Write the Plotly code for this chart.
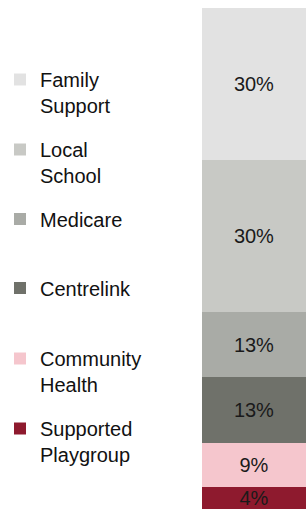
import plotly.graph_objects as go

categories = ["Supported<br>Playgroup", "Community<br>Health", "Centrelink", "Medicare", "Local<br>School", "Family<br>Support"]
values = [4.4, 8.6, 13.1, 12.9, 30.2, 30.2]
colors = ["#8e1a2e", "#f5c6cd", "#6f716a", "#a9aba6", "#c8c9c5", "#e2e2e2"]
legend_centers_px = [430.5, 360.5, 290, 221, 151.5, 81.5]

W, H = 306, 511
FONT = "Liberation Sans, Arial, sans-serif"
FS = 20

fig = go.Figure()
layout_legends = {}
for i, (cat, val, col) in enumerate(zip(categories, values, colors)):
    lname = "legend" if i == 0 else f"legend{i+1}"
    fig.add_trace(go.Bar(
        x=["share"], y=[val], name=cat,
        marker=dict(color=col, line=dict(width=0)),
        text=[f"{val:.0f}%"], textposition="inside", insidetextanchor="middle",
        textfont=dict(color="#1a1a1a", size=FS, family=FONT),
        constraintext="none", cliponaxis=False, legend=lname, hoverinfo="skip",
    ))
    top_px = legend_centers_px[i] - 21.5
    layout_legends[lname] = dict(
        xref="container", yref="container", x=0, y=1 - top_px / H,
        xanchor="left", yanchor="top", bgcolor="rgba(0,0,0,0)", borderwidth=0,
        valign="top", font=dict(size=FS, family=FONT, color="#111111"),
        itemclick=False, itemdoubleclick=False,
    )

fig.update_layout(
    width=W, height=H, barmode="stack", bargap=0,
    margin=dict(l=202, r=0, t=8, b=2),
    paper_bgcolor="white", plot_bgcolor="white",
    xaxis=dict(visible=False, range=[-0.5, 0.5]),
    yaxis=dict(visible=False, range=[0, sum(values)]),
    uniformtext=dict(mode="show", minsize=FS),
    showlegend=True,
    **layout_legends,
)
fig.write_html(
    "out.html",
    config={"displayModeBar": False},
    post_script="document.body.style.margin='0';document.body.style.overflow='hidden';",
)
